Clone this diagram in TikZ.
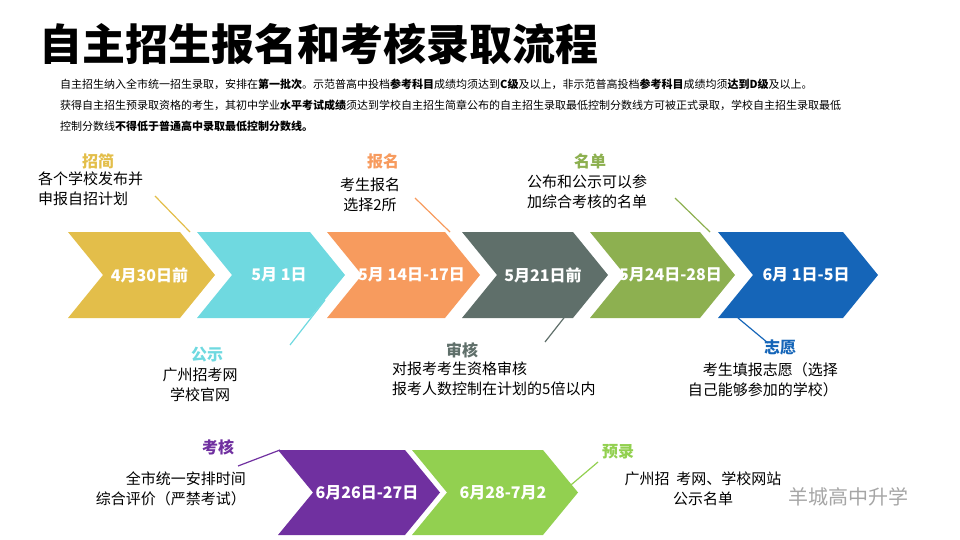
\documentclass[tikz,border=0pt]{standalone}
\usepackage{fontspec}
\setmainfont{Noto Sans CJK SC}
\usetikzlibrary{positioning}
\definecolor{cYel}{HTML}{E3BE4A}
\definecolor{cCya}{HTML}{6FD9E0}
\definecolor{cOra}{HTML}{F79B5E}
\definecolor{cGry}{HTML}{5F6F6A}
\definecolor{cGrn}{HTML}{8DB050}
\definecolor{cBlu}{HTML}{1565B8}
\definecolor{cPur}{HTML}{7030A0}
\definecolor{cLgr}{HTML}{92D050}
\tikzset{
  Title/.style={font=\fontsize{43}{45}\selectfont\bfseries, anchor=west},
  Intro/.style={font=\fontsize{11}{21}\selectfont, anchor=north west, align=left, inner sep=0pt},
  Head/.style={font=\fontsize{16}{18}\selectfont\bfseries},
  Desc/.style={font=\fontsize{15}{20}\selectfont, align=left, anchor=north west, inner sep=0pt},
  Date/.style={font=\fontsize{16}{18}\selectfont\bfseries, text=white},
  Lead/.style={line width=1.2pt},
}
% chevron: left x, right x (tip), top y, bottom y, colour, name, text
\newcommand{\chevron}[7]{%
  \fill[#5] (#1,#3) -- (#2-35,#3) -- (#2,{(#3+#4)/2}) -- (#2-35,#4) -- (#1,#4) -- (#1+35,{(#3+#4)/2}) -- cycle;
  \node[Date] (#6) at ({(#1+#2)/2+8},{(#3+#4)/2}) {#7};}
\begin{document}
\begin{tikzpicture}[x=1pt,y=-1pt]
\useasboundingbox (0,0) rectangle (960,540);
\node[Title] (title) at (36,44) {自主招生报名和考核录取流程};
\node[Intro] (intro) at (60,79) {自主招生纳入全市统一招生录取，安排在\textbf{第一批次}。示范普高中投档\textbf{参考科目}成绩均须达到\textbf{C级}及以上，非示范普高投档\textbf{参考科目}成绩均须\textbf{达到D级}及以上。\\
获得自主招生预录取资格的考生，其初中学业\textbf{水平考试成绩}须达到学校自主招生简章公布的自主招生录取最低控制分数线方可被正式录取，学校自主招生录取最低\\
控制分数线\textbf{不得低于普通高中录取最低控制分数线。}};

\chevron{68}{215}{232}{318}{cYel}{d1}{4月30日前}
\chevron{197}{345}{232}{318}{cCya}{d2}{5月 1日}
\chevron{327}{480}{232}{318}{cOra}{d3}{5月 14日-17日}
\chevron{462}{608}{232}{318}{cGry}{d4}{5月21日前}
\chevron{590}{735}{232}{318}{cGrn}{d5}{5月24日-28日}
\chevron{718}{878}{232}{318}{cBlu}{d6}{6月 1日-5日}
\chevron{278}{440}{450}{535}{cPur}{d7}{6月26日-27日}
\chevron{412}{578}{450}{535}{cLgr}{d8}{6月28-7月2}

\node[Head, text=cYel] (h1) at (98,161) {招简};
\node[Desc] (t1) at (38,172) {各个学校发布并\\申报自招计划};
\coordinate (e1) at (190,232);
\draw[Lead, cYel] (155,196) -- (e1);

\node[Head, text=cCya] (h2) at (207,355) {公示};
\node[Desc, align=center, anchor=north] (t2) at (200,368) {广州招考网\\学校官网};
\coordinate (e2) at (325,300);
\draw[Lead, cCya] (e2) -- (290,345);

\node[Head, text=cOra] (h3) at (383,161) {报名};
\node[Desc, align=center, anchor=north] (t3) at (370,178) {考生报名\\选择2所};
\coordinate (e3) at (450,232);
\draw[Lead, cOra] (415,198) -- (e3);

\node[Head, text=cGry] (h4) at (462,350) {审核};
\node[Desc] (t4) at (392,362) {对报考考生资格审核\\报考人数控制在计划的5倍以内};
\coordinate (e4) at (578,300);
\draw[Lead, cGry] (e4) -- (545,342);

\node[Head, text=cGrn] (h5) at (590,161) {名单};
\node[Desc] (t5) at (527,175) {公布和公示可以参\\加综合考核的名单};
\coordinate (e5) at (710,232);
\draw[Lead, cGrn] (675,198) -- (e5);

\node[Head, text=cBlu] (h6) at (780,348) {志愿};
\node[Desc, align=right, anchor=north east] (t6) at (838,362) {考生填报志愿（选择\\自己能够参加的学校）};
\coordinate (e6) at (738,318);
\draw[Lead, cBlu] (e6) -- (768,343);

\node[Head, text=cPur] (h7) at (218,447) {考核};
\node[Desc, align=right, anchor=north east] (t7) at (246,472) {全市统一安排时间\\综合评价（严禁考试）};
\coordinate (e7) at (280,450);
\draw[Lead, cPur] (238,466) -- (e7);

\node[Head, text=cLgr] (h8) at (618,452) {预录};
\node[Desc, align=center, anchor=north] (t8) at (703,472) {广州招\ \ 考网、学校网站\\公示名单};
\coordinate (e8) at (565,490);
\draw[Lead, cLgr] (598,462) -- (e8);

\node[font=\fontsize{20}{22}\selectfont, text=gray!70, anchor=west] (mark) at (785,497) {羊城高中升学};
\end{tikzpicture}
\end{document}
